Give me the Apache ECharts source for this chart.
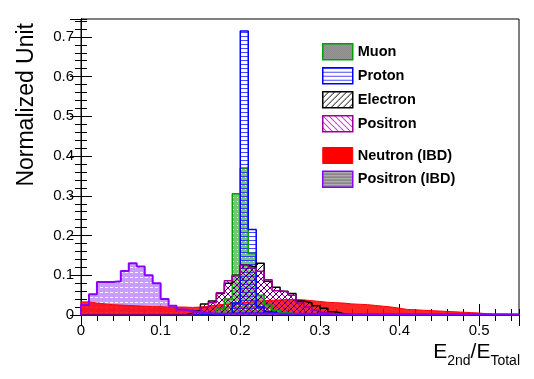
<!DOCTYPE html>
<html><head><meta charset="utf-8">
<script src="https://cdn.jsdelivr.net/npm/echarts@6/dist/echarts.min.js"></script>
<style>html,body{margin:0;padding:0;background:#fff}#c{width:534px;height:379px}</style>
</head><body><div id="c"></div>
<script>
// Histogram bins: 55 bins of width 0.01 from 0 to 0.55
const binWidth = 0.01;
const xTickLabels = ['0','0.1','0.2','0.3','0.4','0.5'];
const yTickLabels = ['0','0.1','0.2','0.3','0.4','0.5','0.6','0.7'];

const muon = [0,0,0,0,0,0,0,0,0,0, 0,0,0,0,0,0,0.005,0.015,0.04,0.305,
  0.37,0.155,0.05,0.025,0.012,0.006,0.003,0,0,0, 0,0,0,0,0,0,0,0,0,0,
  0,0,0,0,0,0,0,0,0,0, 0,0,0,0,0];
const proton = [0,0,0,0,0,0,0,0,0,0, 0,0,0,0,0,0,0,0.002,0.005,0.03,
  0.715,0.215,0.02,0.008,0.003,0,0,0,0,0, 0,0,0,0,0,0,0,0,0,0,
  0,0,0,0,0,0,0,0,0,0, 0,0,0,0,0];
const electron = [0,0,0,0,0,0,0,0,0,0, 0,0,0,0.004,0.01,0.028,0.035,0.054,0.08,0.1,
  0.125,0.12,0.13,0.085,0.07,0.06,0.054,0.035,0.03,0.023, 0.017,0.008,0.003,0,0,0,0,0,0,0,
  0,0,0,0,0,0,0,0,0,0, 0,0,0,0,0];
const positron = [0,0,0,0,0,0,0,0,0,0, 0,0,0,0,0.008,0.019,0.031,0.056,0.086,0.099,
  0.125,0.118,0.11,0.089,0.061,0.058,0.05,0.03,0.02,0.012, 0.006,0.002,0,0,0,0,0,0,0,0,
  0,0,0,0,0,0,0,0,0,0, 0,0,0,0,0];
const neutronIBD = [0.033,0.03,0.028,0.026,0.025,0.024,0.023,0.022,0.021,0.021,
  0.02,0.02,0.02,0.019,0.02,0.022,0.025,0.027,0.028,0.03,
  0.032,0.034,0.036,0.037,0.038,0.039,0.039,0.038,0.036,0.034,
  0.032,0.031,0.03,0.028,0.027,0.026,0.024,0.022,0.02,0.017,
  0.014,0.013,0.012,0.011,0.01,0.009,0.008,0.007,0.006,0.005,
  0.003,0.002,0.002,0.001,0.001];
const positronIBD = [0.025,0.052,0.083,0.083,0.085,0.111,0.13,0.122,0.1,0.08,
  0.04,0.023,0.014,0.01,0.007,0.005,0.004,0.003,0.003,0.003,
  0.003,0.003,0.003,0.003,0.003,0.003,0.003,0.003,0.003,0.003,
  0.003,0.002,0.002,0.002,0.002,0.002,0.002,0.002,0.002,0.002,
  0.002,0.002,0.002,0.002,0.002,0.002,0.002,0.002,0.002,0.002,
  0.002,0.002,0.002,0.002,0.002];

function hist(vals){
  const d = [[0,0]];
  vals.forEach((v,i)=>d.push([+(i*binWidth).toFixed(2), v]));
  const end = +(vals.length*binWidth).toFixed(2);
  d.push([end, vals[vals.length-1]]);
  d.push([end, 0]);
  return d;
}
function pat(w,h,draw){
  const c=document.createElement('canvas'); c.width=w; c.height=h;
  const ctx=c.getContext('2d'); draw(ctx); return {image:c, repeat:'repeat'};
}
const muonFill = pat(4,4,ctx=>{ctx.fillStyle='rgba(60,180,60,0.72)';ctx.fillRect(0,0,4,4);ctx.fillStyle='#fff';ctx.fillRect(1,1,1,1);});
const protonFill = pat(4,4,ctx=>{ctx.fillStyle='rgba(40,40,255,0.85)';ctx.fillRect(0,0,4,1);});
const electronFill = pat(6,6,ctx=>{ctx.strokeStyle='#000';ctx.lineWidth=1;ctx.beginPath();
  ctx.moveTo(-1,7);ctx.lineTo(7,-1);ctx.moveTo(-1,1);ctx.lineTo(1,-1);ctx.moveTo(5,7);ctx.lineTo(7,5);ctx.stroke();});
const positronFill = pat(6,6,ctx=>{ctx.strokeStyle='#990099';ctx.lineWidth=1;ctx.beginPath();
  ctx.moveTo(-1,-1);ctx.lineTo(7,7);ctx.moveTo(5,-1);ctx.lineTo(7,1);ctx.moveTo(-1,5);ctx.lineTo(1,7);ctx.stroke();});
const positronIBDFill = pat(5,5,ctx=>{ctx.fillStyle='rgba(190,140,255,0.85)';ctx.fillRect(0,0,5,5);ctx.fillStyle='#fff';ctx.fillRect(0,2,3,1);});
const neutronFill = 'rgba(255,0,0,0.85)';
const grayChecker = pat(2,2,ctx=>{ctx.fillStyle='#777';ctx.fillRect(0,0,2,2);ctx.fillStyle='#aaa';ctx.fillRect(0,0,1,1);ctx.fillRect(1,1,1,1);});
const grayLines = pat(2,3,ctx=>{ctx.fillStyle='#888';ctx.fillRect(0,0,2,3);ctx.fillStyle='#bbb';ctx.fillRect(0,1,2,1);});

// draw order (later = on top)
const cfg = [
  {name:'Positron (IBD)', vals:positronIBD, line:'#8800ff', fill:positronIBDFill, w:0},
  {name:'Neutron (IBD)', vals:neutronIBD, line:'#ff0000', fill:neutronFill, w:1},
  {name:'Muon', vals:muon, line:'#00a000', fill:muonFill, w:1.5},
  {name:'Proton', vals:proton, line:'#0000ff', fill:protonFill, w:1.5},
  {name:'Electron', vals:electron, line:'#000000', fill:electronFill, w:1.5},
  {name:'Positron', vals:positron, line:'#990099', fill:positronFill, w:1.5}
];
const series = cfg.map(c=>({
  type:'line', name:c.name, data:hist(c.vals), step:'end', symbol:'none', showSymbol:false,
  xAxisIndex:0, yAxisIndex:0, silent:true, clip:true,
  lineStyle:{color:c.line, width:c.w, opacity:c.w?1:0}, itemStyle:{color:c.line},
  areaStyle:{color:c.fill, opacity:1}
}));
// outline of Positron (IBD) drawn on top
series.push({type:'line', name:'Positron (IBD) outline', data:hist(positronIBD), step:'end', symbol:'none', showSymbol:false,
  xAxisIndex:0, yAxisIndex:0, silent:true, clip:true, lineStyle:{color:'#8800ff', width:2}, itemStyle:{color:'#8800ff'}});

const FONT = 'Liberation Sans, Arial, Helvetica, sans-serif';
const black = {color:'#000', width:1};
function xAx(pos, interval, len, labels){
  return {type:'value', min:0, max:0.55, interval, position:pos, offset:0,
    axisLine:{show:true, lineStyle:black}, splitLine:{show:false},
    axisTick:{show:true, inside:true, length:len, lineStyle:black},
    axisLabel:{show:labels, margin:8, fontSize:15, color:'#000', fontFamily:FONT, showMaxLabel:false,
      formatter:v=>{const i=Math.round(v*10); return Math.abs(v*10-i)<1e-6 && xTickLabels[i]!==undefined ? xTickLabels[i] : '';}}};
}
function yAx(pos, interval, len, labels){
  return {type:'value', min:0, max:0.745, interval, position:pos, offset:0,
    axisLine:{show:true, lineStyle:black}, splitLine:{show:false},
    axisTick:{show:true, inside:true, length:len, lineStyle:black},
    axisLabel:{show:labels, margin:7, fontSize:15, color:'#000', fontFamily:FONT, showMaxLabel:false,
      formatter:v=>{const i=Math.round(v*10); return Math.abs(v*10-i)<1e-6 && yTickLabels[i]!==undefined ? yTickLabels[i] : '';}}};
}

const legText = {fontSize:14.5, fontWeight:'bold', color:'#000', fontFamily:FONT};
const option = {
  animation:false,
  backgroundColor:'#fff',
  grid:{left:81, right:15, top:19, bottom:64, containLabel:false, outerBoundsMode:'none', show:true, borderColor:'#000', borderWidth:1},
  xAxis:[xAx('bottom',0.1,11,true), xAx('bottom',0.02,6,false), xAx('top',0.1,11,false), xAx('top',0.02,6,false)],
  yAxis:[yAx('left',0.1,11,true), yAx('left',0.02,6,false), yAx('right',0.1,11,false), yAx('right',0.02,6,false)],
  legend:[
    {orient:'vertical', left:322, top:43, padding:0, itemWidth:30, itemHeight:16, itemGap:6.5, selectedMode:false, textStyle:legText, icon:'rect',
     data:[
      {name:'Muon', itemStyle:{color:grayChecker, borderColor:'#00a000', borderWidth:1.5}},
      {name:'Proton', itemStyle:{color:protonFill, borderColor:'#0000ff', borderWidth:1.5}},
      {name:'Electron', itemStyle:{color:electronFill, borderColor:'#000', borderWidth:1.5}},
      {name:'Positron', itemStyle:{color:positronFill, borderColor:'#990099', borderWidth:1.5}}
     ]},
    {orient:'vertical', left:322, top:147, padding:0, itemWidth:30, itemHeight:16, itemGap:6.5, selectedMode:false, textStyle:legText, icon:'rect',
     data:[
      {name:'Neutron (IBD)', itemStyle:{color:'#ff0000', borderColor:'#ff0000', borderWidth:1}},
      {name:'Positron (IBD)', itemStyle:{color:grayLines, borderColor:'#8800ff', borderWidth:1.5}}
     ]}
  ],
  graphic:[
    {type:'text', x:27, y:23, rotation:Math.PI/2, silent:true,
     style:{text:'Normalized Unit', fontSize:23, fontFamily:FONT, fill:'#000', align:'right', verticalAlign:'middle'}},
    {type:'text', x:520, y:342, silent:true,
     style:{text:'{e|E}{s|2nd}{e|/E}{s|Total}', align:'right', verticalAlign:'top', fill:'#000',
       rich:{e:{fontSize:21, lineHeight:21, fontFamily:FONT, verticalAlign:'top', fill:'#000'},
             s:{fontSize:14, lineHeight:14, padding:[12,0,0,0], fontFamily:FONT, verticalAlign:'top', fill:'#000'}}}}
  ],
  series
};
const chart = echarts.init(document.getElementById('c'), null, {renderer:'canvas'});
chart.setOption(option);
</script></body></html>
